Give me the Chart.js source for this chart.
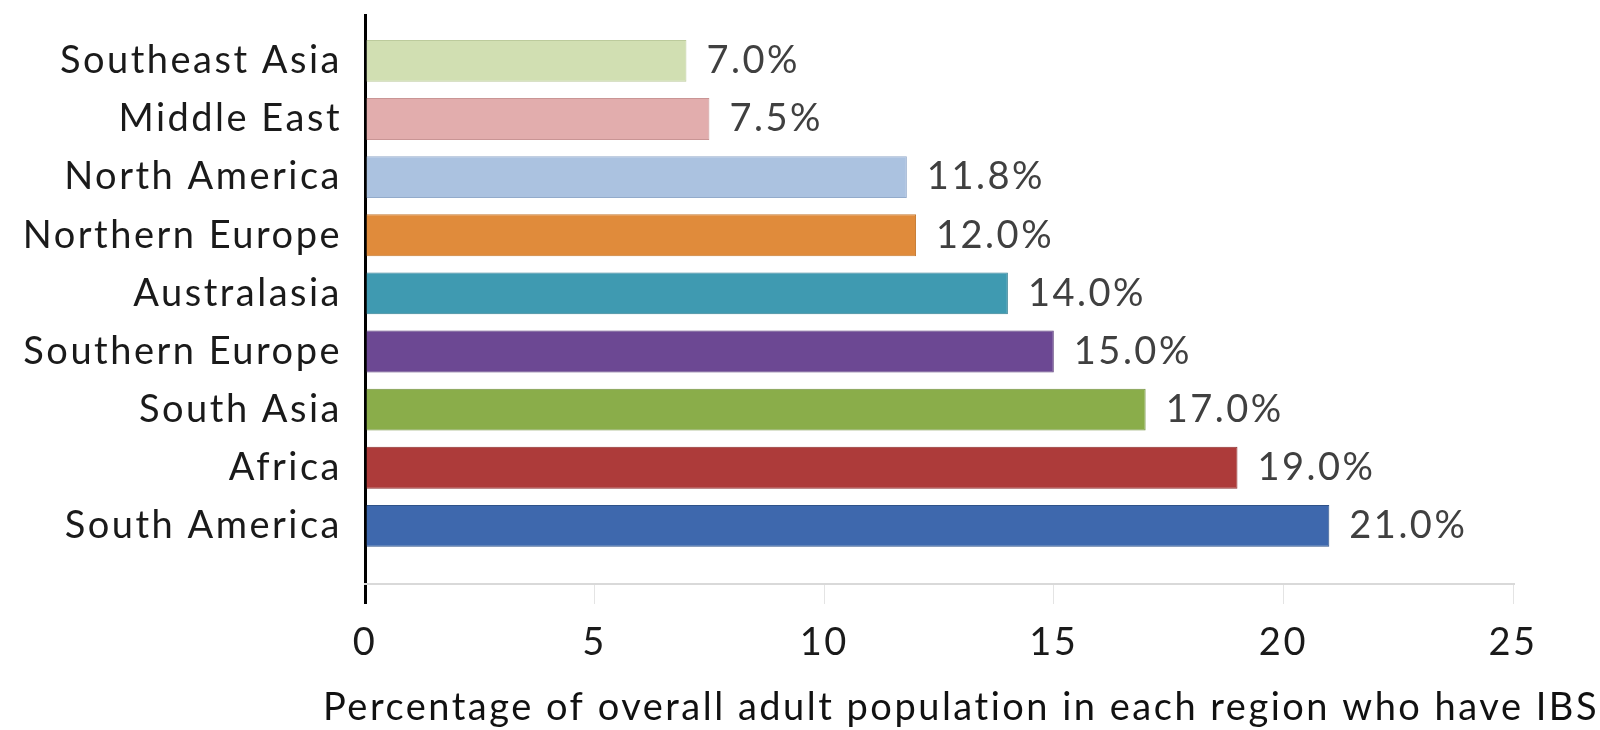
<!DOCTYPE html>
<html>
<head>
<meta charset="utf-8">
<script src="https://cdn.jsdelivr.net/npm/chart.js@4"></script>
<style>
html,body{margin:0;padding:0;background:#fff;}
#wrap{width:1600px;height:730px;}
</style>
</head>
<body>
<div id="wrap"><canvas id="ibsChart"></canvas></div>
<script>
(function(){
'use strict';

// data
const regions    = ['Southeast Asia','Middle East','North America','Northern Europe','Australasia','Southern Europe','South Asia','Africa','South America'];
const prevalence = [7.0, 7.5, 11.8, 12.0, 14.0, 15.0, 17.0, 19.0, 21.0];
const barColors  = ['#d1dfb2','#e2adad','#abc2e0','#e08b3b','#3f9ab1','#6c4893','#8aad4a','#ad3b3a','#3e68ad'];
const edgeColors = ['#bccb9c','#c99595','#93abcb','#c57a32','#347f93','#573a77','#739040','#8c2f2e','#2f5288'];
const xTicks     = [0, 5, 10, 15, 20, 25];
const xTitle     = 'Percentage of overall adult population in each region who have IBS';

const FONT = 'Lato, "Open Sans", sans-serif';
const SIZE = 38;

// the source text is a bit wide, widen glyph spacing for every text
const wideText = {
  id: 'wideText',
  beforeLayout(chart){ chart.ctx.letterSpacing = '2.5px'; },
  beforeDraw(chart){ chart.ctx.letterSpacing = '2.5px'; }
};

// value labels at the end of each bar
const barLabels = {
  id: 'barLabels',
  afterDatasetsDraw(chart){
    const ctx = chart.ctx;
    const meta = chart.getDatasetMeta(0);
    ctx.save();
    ctx.font = SIZE + 'px ' + FONT;
    ctx.fillStyle = '#404040';
    ctx.textBaseline = 'middle';
    ctx.textAlign = 'left';
    meta.data.forEach((bar, i) => {
      ctx.fillText(prevalence[i].toFixed(1) + '%', bar.x + 20, bar.y);
    });
    ctx.restore();
  }
};

// axis title is wider than the axis in the source, chart.js would squeeze it
const wideTitle = {
  id: 'wideTitle',
  afterDraw(chart){
    const s = chart.scales.x;
    const ctx = chart.ctx;
    ctx.save();
    ctx.font = SIZE + 'px ' + FONT;
    ctx.fillStyle = '#111';
    ctx.textAlign = 'center';
    ctx.textBaseline = 'middle';
    ctx.fillText(xTitle, (s.left + s.right) / 2 + 22, s.bottom - 22);
    ctx.restore();
  }
};

const ctx = document.getElementById('ibsChart').getContext('2d');
new Chart(ctx, {
  type: 'bar',
  data: {
    datasets: [{
      data: prevalence.map((v, i) => ({ x: v, y: i })),
      backgroundColor: barColors,
      borderColor: edgeColors,
      borderWidth: 1,
      barPercentage: 0.72,
      categoryPercentage: 1
    }]
  },
  options: {
    indexAxis: 'y',
    responsive: true,
    maintainAspectRatio: false,
    animation: false,
    layout: { padding: { top: 15, right: 87, bottom: 0, left: 0 } },
    plugins: { legend: { display: false }, tooltip: { enabled: false } },
    scales: {
      y: {
        type: 'linear',
        reverse: true,
        offset: false,
        min: -0.79,
        max: 9,
        afterBuildTicks: s => { s.ticks = regions.map((r, i) => ({ value: i })); },
        afterFit: s => { s.width = 365; s.paddingTop = 0; s.paddingBottom = 0; },
        ticks: {
          callback: v => regions[v],
          font: { family: FONT, size: SIZE },
          color: '#1a1a1a',
          padding: 15
        },
        grid: { display: false, offset: false },
        border: { display: true, color: '#000', width: 3 }
      },
      x: {
        type: 'linear',
        offset: false,
        min: xTicks[0],
        max: xTicks[xTicks.length - 1],
        afterBuildTicks: s => { s.ticks = xTicks.map(v => ({ value: v })); },
        afterFit: s => { s.paddingLeft = 0; s.paddingRight = 0; },
        ticks: {
          font: { family: FONT, size: SIZE },
          color: '#1a1a1a',
          padding: 16
        },
        grid: {
          drawOnChartArea: false,
          drawTicks: true,
          tickLength: 20,
          color: c => c.tick && c.tick.value === 0 ? '#000' : '#e4e4e4',
          lineWidth: c => c.tick && c.tick.value === 0 ? 3 : 1
        },
        border: { display: true, color: '#d9d9d9', width: 2 },
        // keeps the room for the title, the text itself is drawn by wideTitle
        title: {
          display: true,
          text: xTitle,
          font: { family: FONT, size: SIZE },
          color: 'rgba(0,0,0,0)',
          padding: { top: 1.6, bottom: 1.2 }
        }
      }
    }
  },
  plugins: [wideText, barLabels, wideTitle]
});
})();
</script>
</body>
</html>
